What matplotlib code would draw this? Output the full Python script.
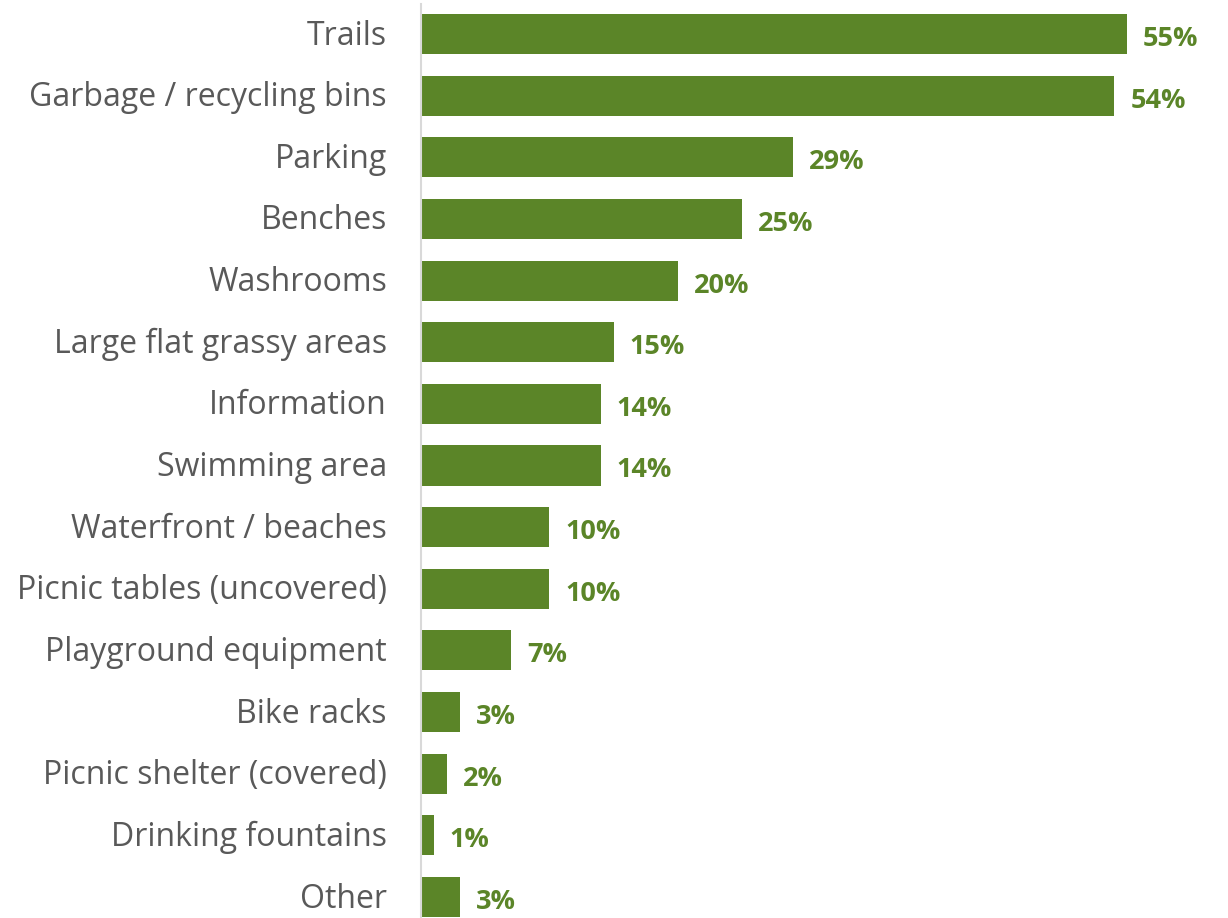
import matplotlib
matplotlib.use("Agg")
import matplotlib.pyplot as plt
import matplotlib.transforms as mtransforms

categories = ["Trails", "Garbage / recycling bins", "Parking", "Benches", "Washrooms",
              "Large flat grassy areas", "Information", "Swimming area",
              "Waterfront / beaches", "Picnic tables (uncovered)", "Playground equipment",
              "Bike racks", "Picnic shelter (covered)", "Drinking fountains", "Other"]
values = [55, 54, 29, 25, 20, 15, 14, 14, 10, 10, 7, 3, 2, 1, 3]

green = "#5B8528"
grey_text = "#595959"

fig = plt.figure(figsize=(12.28, 9.18), dpi=100)
ax = fig.add_axes([421/1228, 0, 796/1228, 914/918])
y = list(range(len(categories)))
ax.barh(y, values, height=0.65, color=green)
ax.set_xlim(0, 62)
ax.set_ylim(14.34, -0.487)
ax.set_yticks(y)
ax.set_yticklabels(categories, fontsize=23, color=grey_text, fontfamily="Open Sans")
ax.tick_params(axis="y", length=0, pad=24.5)
shift = mtransforms.ScaledTranslation(0, 2/100, fig.dpi_scale_trans)
for lbl in ax.get_yticklabels():
    lbl.set_va("center_baseline")
    lbl.set_transform(lbl.get_transform() + shift)
ax.set_xticks([])
for s in ["top", "right", "bottom"]:
    ax.spines[s].set_visible(False)
ax.spines["left"].set_color("#D9D9D9")
ax.spines["left"].set_linewidth(1.5)
for yi, v in zip(y, values):
    ax.text(v + 1.25, yi + 0.08, f"{v}%", va="center", ha="left", fontsize=19.5,
            fontweight="bold", color=green, fontfamily="Open Sans")
fig.savefig("out.png", dpi=100)
